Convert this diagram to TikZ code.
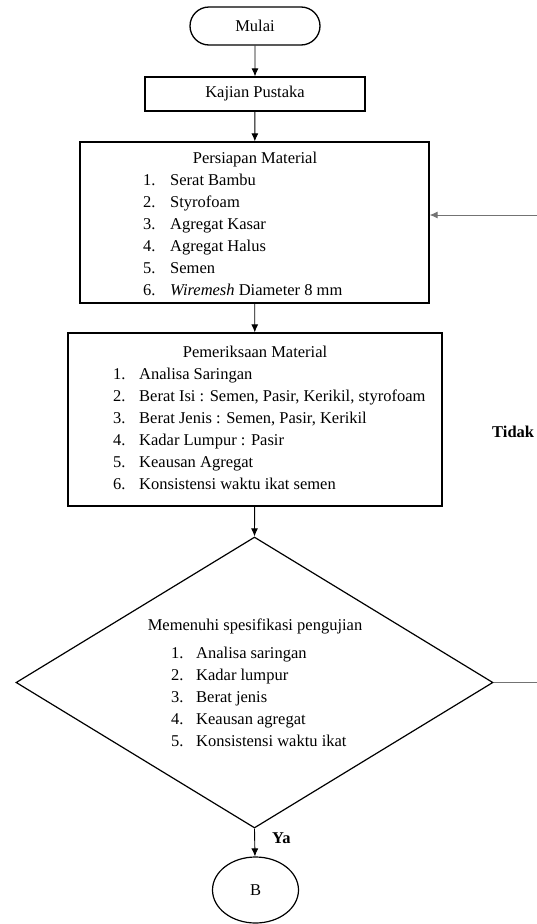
\documentclass[tikz,border=0pt]{standalone}
\usepackage{fontspec}
\setmainfont{Liberation Serif}
\usepackage{tikz}
\usetikzlibrary{arrows.meta, positioning, shapes.misc, shapes.geometric, calc}
\newcommand{\flowfont}{\fontsize{16.5}{22}\selectfont}
\tikzset{%
	terminal/.style={draw, rounded rectangle, minimum width=130pt, minimum height=38pt,%
		inner sep=0pt, line width=1.3pt},
	proc/.style={draw, rectangle, inner sep=0pt, line width=1.3pt},
	decision/.style={draw, diamond, inner sep=0pt, minimum width=477pt,%
		minimum height=291pt, line width=1.2pt},
	conn/.style={draw, ellipse, minimum width=86pt, minimum height=66pt,%
		inner sep=0pt, line width=1.2pt},
	headtext/.style={anchor=base, inner sep=0pt},
	listtext/.style={anchor=north west, inner sep=0pt},
	answer/.style={anchor=west, inner sep=0pt, font=\flowfont\bfseries},
	flow/.style={-{Latex[length=8pt,width=7pt]}, line width=0.9pt},
	back/.style={line width=1pt, draw=black!55}
}

\begin{document}
\begin{tikzpicture}[x=1pt, y=-1pt, font=\flowfont]
	\useasboundingbox (0,0) rectangle (537,924);

	\node[terminal] (mulai) at (255,26) {Mulai};
	\node[proc, minimum width=220pt, minimum height=34pt] (kajian) at (255,94) {Kajian Pustaka};

	% persiapan material
	\node[proc, minimum width=349pt, minimum height=161pt] (persiapan) at (254.5,222.5) {};
	\node[headtext] (persiapan-head) at (255,163.5) {Persiapan Material};
	\node[listtext] (persiapan-list) at (143,170) {%
		\begin{tabular}{@{}p{27pt}@{}l@{}}
			1. & Serat Bambu\\
			2. & Styrofoam\\
			3. & Agregat Kasar\\
			4. & Agregat Halus\\
			5. & Semen\\
			6. & \textit{Wiremesh} Diameter 8 mm
		\end{tabular}};

	% pemeriksaan material
	\node[proc, minimum width=374pt, minimum height=173pt] (periksa) at (255,419.5) {};
	\node[headtext] (periksa-head) at (255,357.5) {Pemeriksaan Material};
	\node[listtext] (periksa-list) at (113,364) {%
		\begin{tabular}{@{}p{26pt}@{}l@{}}
			1. & Analisa Saringan\\
			2. & Berat Isi : Semen, Pasir, Kerikil, styrofoam\\
			3. & Berat Jenis : Semen, Pasir, Kerikil\\
			4. & Kadar Lumpur : Pasir\\
			5. & Keausan Agregat\\
			6. & Konsistensi waktu ikat semen
		\end{tabular}};

	% cek spesifikasi
	\node[decision] (cek) at (254.5,682.5) {};
	\node[headtext] (cek-head) at (255,630.5) {Memenuhi spesifikasi pengujian};
	\node[listtext] (cek-list) at (171,643) {%
		\begin{tabular}{@{}p{25pt}@{}l@{}}
			1. & Analisa saringan\\
			2. & Kadar lumpur\\
			3. & Berat jenis\\
			4. & Keausan agregat\\
			5. & Konsistensi waktu ikat
		\end{tabular}};

	\node[conn] (b) at (255.5,890) {B};

	\draw[flow] (mulai)     to (kajian);
	\draw[flow] (kajian)    to (persiapan);
	\draw[flow] (persiapan) to (periksa);
	\draw[flow] (periksa)   to (cek.north);
	\draw[flow] (cek.south) to (b);
	\node[answer] (ya) at (272,838) {Ya};

	% kembali bila tidak memenuhi
	\coordinate (back-low)  at (548,682.5);
	\coordinate (back-high) at (548,215);
	\draw[back] (cek.east) -- (back-low) -- (back-high);
	\draw[back, flow, draw=black!55] (back-high) -- (persiapan.east |- back-high);
	\node[answer] (tidak) at (492,432) {Tidak};
\end{tikzpicture}
\end{document}
